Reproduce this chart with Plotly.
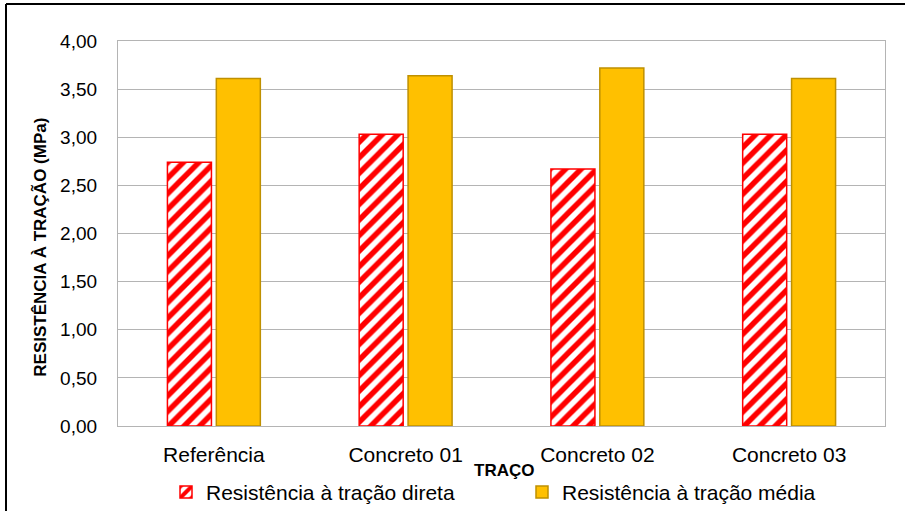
import plotly.graph_objects as go

categories = ["Referência", "Concreto 01", "Concreto 02", "Concreto 03"]
direta = [2.74, 3.03, 2.67, 3.03]
media = [3.61, 3.64, 3.72, 3.61]
series_names = ["Resistência à tração direta", "Resistência à tração média"]
y_ticks = [0, 0.5, 1.0, 1.5, 2.0, 2.5, 3.0, 3.5, 4.0]
y_tick_labels = ["0,00", "0,50", "1,00", "1,50", "2,00", "2,50", "3,00", "3,50", "4,00"]

FONT = "Liberation Sans, Arial, sans-serif"

W, H = 905, 511
L, R, T, B = 118, 20, 41, 84.5
pw = W - L - R
ph = H - T - B

def px_x(x):
    return (x - L) / pw

def px_y(y):
    return (H - B - y) / ph

fig = go.Figure()
fig.add_trace(go.Bar(
    x=categories, y=direta, name=series_names[0],
    marker=dict(color="white",
                pattern=dict(shape="/", fgcolor="#FF0000", bgcolor="white", fgopacity=1,
                             size=11, solidity=0.5, fillmode="replace"),
                line=dict(color="#FF0000", width=1.5)),
))
fig.add_trace(go.Bar(
    x=categories, y=media, name=series_names[1],
    marker=dict(color="#FFC000", line=dict(color="#BF9000", width=1.5)),
))

fig.update_layout(
    width=W, height=H,
    margin=dict(l=L, r=R, t=T, b=B, autoexpand=False),
    paper_bgcolor="white", plot_bgcolor="white",
    barmode="group", bargap=0.49, bargroupgap=0.1,
    font=dict(family=FONT, size=20, color="black"),
    showlegend=True,
    legend=dict(orientation="h", x=px_x(166), xanchor="left", y=px_y(493), yanchor="middle",
                font=dict(size=21), itemwidth=30, entrywidth=311, entrywidthmode="pixels",
                bgcolor="rgba(0,0,0,0)"),
)
fig.update_yaxes(range=[0, 4], tickvals=y_ticks, ticktext=y_tick_labels,
                 showgrid=True, gridcolor="#B4B4B4", gridwidth=1.3,
                 showline=True, linecolor="#B4B4B4", linewidth=1.3, mirror=True,
                 zeroline=False, ticks="", ticklabelstandoff=16,
                 tickfont=dict(size=19))
fig.update_xaxes(showline=True, linecolor="#B4B4B4", linewidth=1.3, mirror=True,
                 ticks="", ticklabelstandoff=10, tickfont=dict(size=21))

fig.add_annotation(text="<b>RESISTÊNCIA À TRAÇÃO (MPa)</b>", textangle=-90,
                   xref="paper", yref="paper", x=px_x(40), y=px_y(248),
                   xanchor="center", yanchor="middle", showarrow=False,
                   font=dict(size=17, family=FONT))
fig.add_annotation(text="<b>TRAÇO</b>", xref="paper", yref="paper",
                   x=px_x(504), y=px_y(471), xanchor="center", yanchor="middle",
                   showarrow=False, font=dict(size=17, family=FONT))

# outer frame (left and top edges visible)
fig.add_shape(type="line", xref="paper", yref="paper",
              x0=px_x(6), x1=px_x(6), y0=px_y(4), y1=px_y(520),
              line=dict(color="black", width=2))
fig.add_shape(type="line", xref="paper", yref="paper",
              x0=px_x(6), x1=px_x(910), y0=px_y(4), y1=px_y(4),
              line=dict(color="black", width=2))

fig.write_html("out.html")
